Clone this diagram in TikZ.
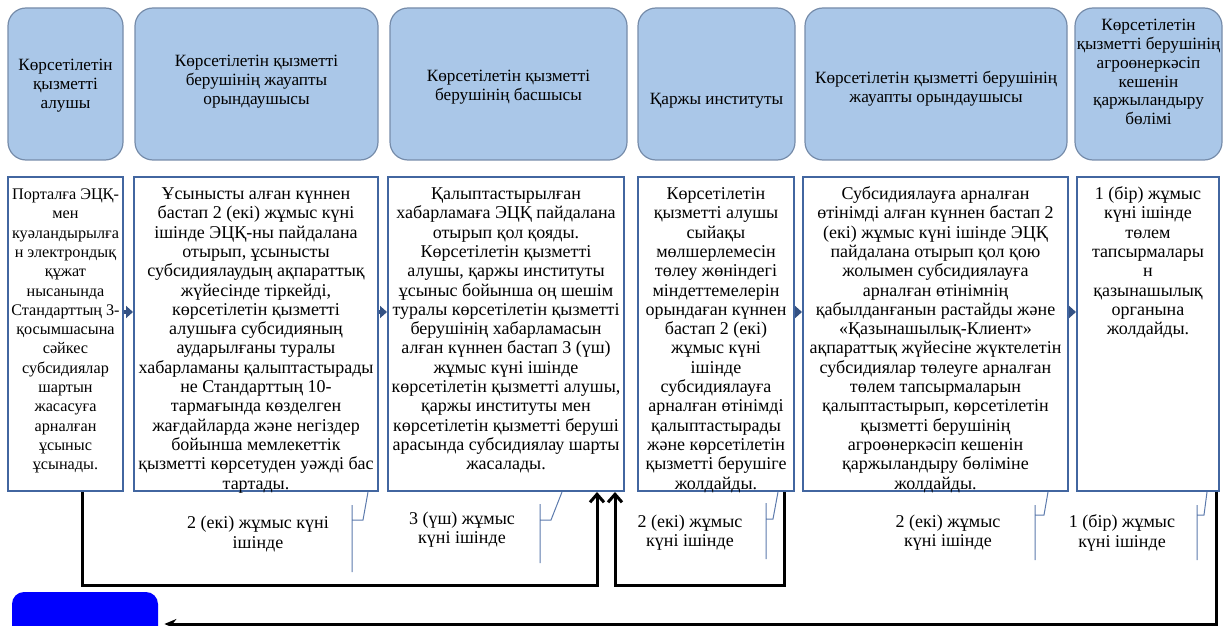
\documentclass[tikz,border=0pt]{standalone}
\usepackage{fontspec}
\setmainfont{Liberation Serif}
\usetikzlibrary{arrows.meta,calc,positioning}
\definecolor{headfill}{RGB}{170,199,232}
\definecolor{headline}{RGB}{118,140,170}
\definecolor{boxline}{RGB}{66,102,160}
\definecolor{flowblue}{RGB}{52,82,132}
\definecolor{notecol}{RGB}{92,122,172}
\newcommand{\Head}[3]{\parbox[c][74pt][c]{#1}{\vspace*{#2}\makebox[#1]{\begin{tabular}{@{}c@{}}#3\end{tabular}}\par}}
\newcommand{\Cell}[2]{\parbox[c][148pt][t]{#1}{\makebox[#1]{\begin{tabular}[t]{@{}c@{}}#2\end{tabular}}}}

\begin{document}
\begin{tikzpicture}[x=0.5pt,y=-0.5pt,
        headbox/.style={draw=headline,fill=headfill,rounded corners=9pt,line width=0.6pt,inner sep=0pt,minimum height=76pt,font=\fontsize{8.6}{9.4}\selectfont},
        stepbox/.style={draw=boxline,line width=1pt,inner xsep=1pt,inner ysep=4.5pt},
        flowarrow/.style={draw=flowblue,line width=1.6pt,-{Triangle[length=3.5pt,width=6pt]}},
        returnline/.style={draw=black,line width=1.5pt},
        noteline/.style={draw=notecol,line width=0.5pt},
        timenote/.style={align=center,inner sep=0pt},
        every node/.style={font=\fontsize{9}{9.65}\selectfont}]

    \useasboundingbox (0,0) rectangle (1227,626);

    \node[headbox,minimum width=57.5pt] (h1) at (65.5,84) {\Head{55pt}{2pt}{Көрсетілетін\\қызметті\\алушы}};
    \node[headbox,minimum width=121.5pt] (h2) at (256.5,84) {\Head{119pt}{-2pt}{Көрсетілетін қызметті\\берушінің жауапты\\орындаушысы}};
    \node[headbox,minimum width=118.5pt] (h3) at (508.5,84) {\Head{116pt}{3pt}{Көрсетілетін қызметті\\берушінің басшысы}};
    \node[headbox,minimum width=78.5pt] (h4) at (716.5,84) {\Head{76pt}{17pt}{Қаржы институты}};
    \node[headbox,minimum width=131pt] (h5) at (936,84) {\Head{129pt}{5pt}{Көрсетілетін қызметті берушінің\\жауапты орындаушысы}};
    \node[headbox,minimum width=73.5pt] (h6) at (1148.5,84) {\Head{71pt}{-10pt}{Көрсетілетін\\қызметті берушінің\\агроөнеркәсіп\\кешенін\\қаржыландыру\\бөлімі}};

    \node[stepbox,minimum width=57.5pt,font=\fontsize{8.1}{9.65}\selectfont] (b1) at (65.5,334) {\Cell{55.5pt}{Порталға ЭЦҚ-\\мен\\куәландырылға\\н электрондық\\құжат\\нысанында\\Стандарттың 3-\\қосымшасына\\сәйкес\\субсидиялар\\шартын\\жасасуға\\арналған\\ұсыныс\\ұсынады.}};
    \node[stepbox,minimum width=122pt] (b2) at (256,334) {\Cell{120pt}{Ұсынысты алған күннен\\бастап 2 (екі) жұмыс күні\\ішінде ЭЦҚ-ны пайдалана\\отырып, ұсынысты\\субсидиялаудың ақпараттық\\жүйесінде тіркейді,\\көрсетілетін қызметті\\алушыға субсидияның\\аударылғаны туралы\\хабарламаны қалыптастырады\\не Стандарттың 10-\\тармағында көзделген\\жағдайларда және негіздер\\бойынша мемлекеттік\\қызметті көрсетуден уәжді бас\\тартады.}};
    \node[stepbox,minimum width=118pt] (b3) at (506,334) {\Cell{116pt}{Қалыптастырылған\\хабарламаға ЭЦҚ пайдалана\\отырып қол қояды.\\Көрсетілетін қызметті\\алушы, қаржы институты\\ұсыныс бойынша оң шешім\\туралы көрсетілетін қызметті\\берушінің хабарламасын\\алған күннен бастап 3 (үш)\\жұмыс күні ішінде\\көрсетілетін қызметті алушы,\\қаржы институты мен\\көрсетілетін қызметті беруші\\арасында субсидиялау шарты\\жасалады.}};
    \node[stepbox,minimum width=78pt] (b4) at (716,334) {\Cell{76pt}{Көрсетілетін\\қызметті алушы\\сыйақы\\мөлшерлемесін\\төлеу жөніндегі\\міндеттемелерін\\орындаған күннен\\бастап 2 (екі)\\жұмыс күні\\ішінде\\субсидиялауға\\арналған өтінімді\\қалыптастырады\\және көрсетілетін\\қызметті берушіге\\жолдайды.}};
    \node[stepbox,minimum width=132.5pt] (b5) at (935.5,334) {\Cell{130.5pt}{Субсидиялауға арналған\\өтінімді алған күннен бастап 2\\(екі) жұмыс күні ішінде ЭЦҚ\\пайдалана отырып қол қою\\жолымен субсидиялауға\\арналған өтінімнің\\қабылданғанын растайды және\\«Қазынашылық-Клиент»\\ақпараттық жүйесіне жүктелетін\\субсидиялар төлеуге арналған\\төлем тапсырмаларын\\қалыптастырып, көрсетілетін\\қызметті берушінің\\агроөнеркәсіп кешенін\\қаржыландыру бөліміне\\жолдайды.}};
    \node[stepbox,minimum width=71pt] (b6) at (1148,334) {\Cell{69pt}{1 (бір) жұмыс\\күні ішінде\\төлем\\тапсырмалары\\н\\қазынашылық\\органына\\жолдайды.}};

    \node[fill={rgb,255:red,0;green,0;blue,255},rounded corners=6pt,minimum width=73pt,minimum height=24pt,inner sep=0pt] (fin) at (85,616) {};

    \node[timenote] (t2) at (258,534) {2 (екі) жұмыс күні\\ішінде};
    \node[timenote] (t3) at (462,530) {3 (үш) жұмыс\\күні ішінде};
    \node[timenote] (t4) at (690,533) {2 (екі) жұмыс\\күні ішінде};
    \node[timenote] (t5) at (948,533) {2 (екі) жұмыс\\күні ішінде};
    \node[timenote] (t6) at (1122,533) {1 (бір) жұмыс\\күні ішінде};

    \coordinate (mid) at (0,312);
    \draw[flowarrow] (b1.east |- mid) -- (b2.west |- mid);
    \draw[flowarrow] (b2.east |- mid) -- (b3.west |- mid);
    \draw[flowarrow] (b4.east |- mid) -- (b5.west |- mid);
    \draw[flowarrow] (b5.east |- mid) -- (b6.west |- mid);

    \coordinate (low) at (0,585);
    \coordinate (base) at (0,624);
    \coordinate (out1) at ($(b1.south)+(16.5,0)$);
    \coordinate (in1) at ($(b3.south east)+(-28,0)$);
    \coordinate (in2) at ($(b3.south east)+(-10,0)$);
    \coordinate (out4) at ($(b4.south east)+(-11,0)$);
    \coordinate (out6) at ($(b6.south east)+(-4,0)$);
    \draw[returnline,-{Straight Barb[length=4pt,width=7pt]}] (out1) -- (out1 |- low) -| (in1);
    \draw[returnline,-{Straight Barb[length=4pt,width=7pt]}] (out4) -- (out4 |- low) -| (in2);
    \draw[returnline,-{Stealth[length=6pt,width=5pt]},shorten >=3pt] (out6) -- (out6 |- base) -- (fin.east |- base);

    \draw[noteline] ($(b2.south east)+(-11,0)$) -- (363,520) -- (352,520) (352,505) -- (352,572);
    \draw[noteline] ($(b3.south east)+(-63,0)$) -- (551,520) -- (540,520) (540,504) -- (540,563);
    \draw[noteline] ($(b4.south east)+(-17,0)$) -- (773,519) -- (766,519) (766,503) -- (766,559);
    \draw[noteline] ($(b5.south east)+(-21,0)$) -- (1044,515) -- (1035,515) (1035,505) -- (1035,560);
    \draw[noteline] ($(b6.south east)+(-13,0)$) -- (1204,515) -- (1197,515) (1197,505) -- (1197,560);

\end{tikzpicture}
\end{document}
